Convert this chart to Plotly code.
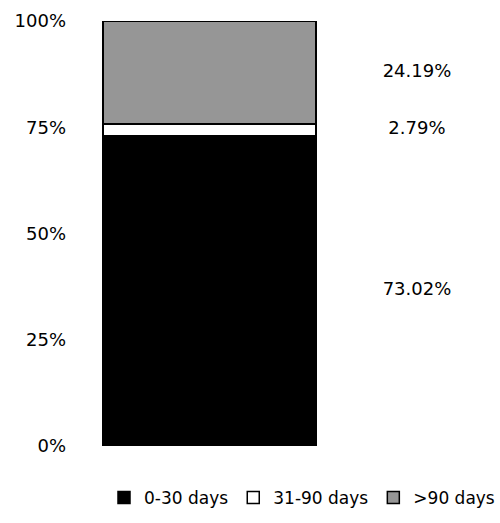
import plotly.graph_objects as go

categories = ["Total"]
series_names = ["0-30 days", "31-90 days", ">90 days"]
series_values = [73.02, 2.79, 24.19]
series_colors = ["#000000", "#ffffff", "#969696"]
tick_vals = [0, 25, 50, 75, 100]
tick_text = ["0%", "25%", "50%", "75%", "100%"]

FONT = "DejaVu Sans"

fig = go.Figure()
for name, val, col in zip(series_names, series_values, series_colors):
    fig.add_trace(go.Bar(
        x=[0], y=[val], name=name, width=1.027,
        marker=dict(color=col, line=dict(color="#000000", width=1.5)),
        hoverinfo="skip",
    ))

# value labels to the right of the bar, at segment midpoints
mids = []
cum = 0
for v in series_values:
    mids.append(cum + v / 2)
    cum += v
fig.add_trace(go.Scatter(
    x=[1] * len(series_values), y=mids, mode="text",
    text=[f"{v:.2f}%" for v in series_values],
    textfont=dict(family=FONT, size=18, color="#000000"),
    showlegend=False, hoverinfo="skip",
))

fig.update_layout(
    width=500, height=523,
    barmode="stack",
    paper_bgcolor="white", plot_bgcolor="white",
    margin=dict(l=70, r=10, t=21, b=77, autoexpand=False),
    font=dict(family=FONT, size=18, color="#000000"),
    xaxis=dict(range=[-0.672, 1.352], showticklabels=False, showgrid=False,
               zeroline=False, showline=False),
    yaxis=dict(range=[0, 100], tickvals=tick_vals, ticktext=tick_text,
               showgrid=False, zeroline=False, showline=False, ticks="",
               ticklabelstandoff=3),
    legend=dict(orientation="h", x=1.0, xanchor="right", xref="container",
                y=0.048, yanchor="middle", yref="container",
                font=dict(family=FONT, size=17), traceorder="normal",
                itemwidth=30),
)

fig.write_html("out.html")
